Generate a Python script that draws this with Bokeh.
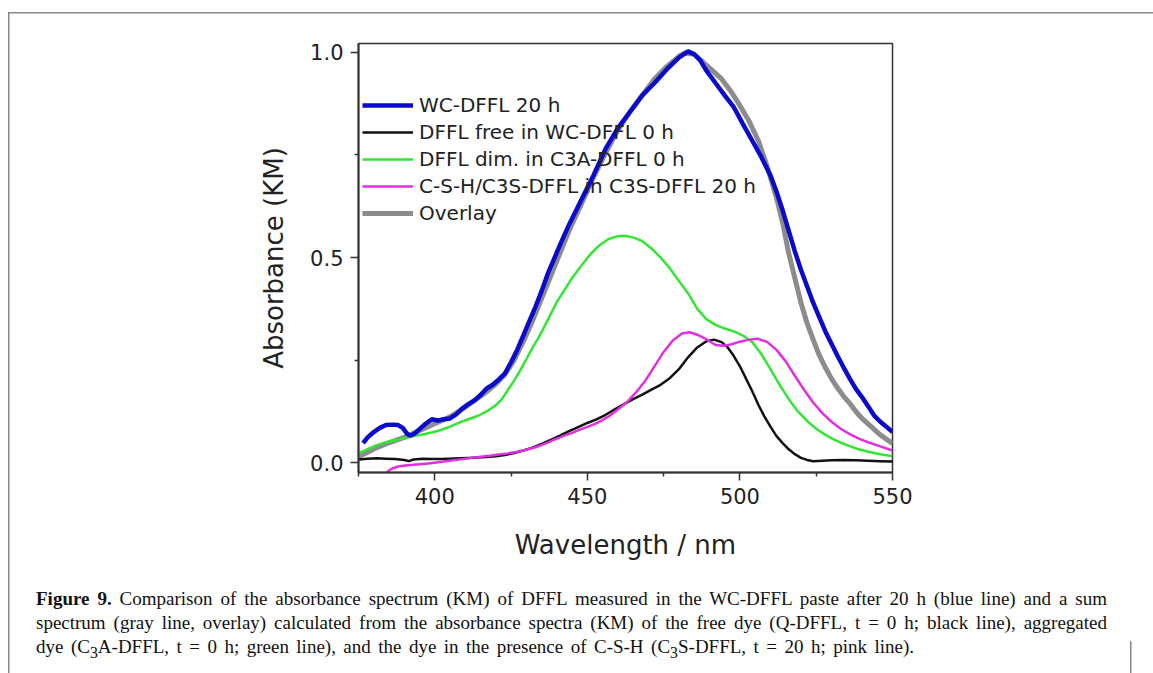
from bokeh.plotting import figure
from bokeh.layouts import column
from bokeh.models import (Range1d, FixedTicker, PrintfTickFormatter, Legend, LegendItem, Div)
from bokeh.embed import file_html
from bokeh.resources import INLINE

# ---------------- data ----------------
wl_blue = [376.5, 378, 380, 382, 384, 386, 388, 389.5, 391, 392, 393.5, 395, 397, 399, 401, 403, 405,
           407, 409, 411, 413, 415, 417, 419, 421, 423, 425, 427, 429, 431, 433, 435, 437, 439, 441,
           444, 448, 452, 456, 460, 464, 468, 472, 476, 480, 483, 485, 487, 489, 492, 495, 498, 501,
           504, 507, 510, 512, 514, 516, 518, 520, 522, 524, 526, 528, 530, 532, 534, 536, 538, 540,
           542, 544, 546, 548, 550]
abs_blue = [0.048, 0.062, 0.075, 0.085, 0.092, 0.093, 0.092, 0.085, 0.070, 0.066, 0.072, 0.082, 0.095,
            0.106, 0.103, 0.106, 0.108, 0.118, 0.132, 0.143, 0.152, 0.165, 0.181, 0.190, 0.203, 0.218,
            0.245, 0.275, 0.310, 0.345, 0.380, 0.418, 0.460, 0.495, 0.530, 0.580, 0.640, 0.700, 0.765,
            0.815, 0.855, 0.895, 0.925, 0.958, 0.987, 1.002, 0.995, 0.980, 0.955, 0.925, 0.895, 0.866,
            0.825, 0.785, 0.745, 0.700, 0.660, 0.615, 0.565, 0.515, 0.470, 0.430, 0.390, 0.355, 0.320,
            0.290, 0.260, 0.232, 0.205, 0.180, 0.160, 0.138, 0.115, 0.100, 0.088, 0.075]

wl_black = [375, 378, 381, 384, 387, 390, 391.5, 393, 396, 399, 402, 405, 408, 411, 414, 417, 420, 423,
            426, 429, 432, 435, 438, 441, 444, 447, 450, 453, 456, 459, 462, 465, 468, 471, 474, 477,
            480, 483, 486, 489, 491.5, 494, 496, 498, 500, 502, 504, 506, 508, 510, 512, 514, 516, 518,
            520, 522, 524, 527, 530, 534, 538, 542, 546, 550]
abs_black = [0.008, 0.010, 0.011, 0.010, 0.009, 0.007, 0.004, 0.008, 0.010, 0.009, 0.009, 0.010, 0.011,
             0.012, 0.013, 0.014, 0.016, 0.019, 0.024, 0.030, 0.037, 0.046, 0.056, 0.066, 0.077, 0.087,
             0.097, 0.106, 0.117, 0.130, 0.143, 0.155, 0.166, 0.178, 0.190, 0.206, 0.228, 0.257, 0.281,
             0.296, 0.300, 0.294, 0.281, 0.260, 0.235, 0.205, 0.175, 0.142, 0.113, 0.088, 0.065, 0.048,
             0.033, 0.021, 0.012, 0.007, 0.004, 0.005, 0.006, 0.007, 0.006, 0.005, 0.004, 0.003]

wl_green = [375, 378, 381, 384, 387, 390, 393, 396, 399, 402, 405, 408, 411, 414, 417, 420, 422, 424,
            426, 428, 430, 432, 434, 436, 438, 440, 442, 445, 448, 451, 454, 457, 460, 462, 465, 468,
            471, 474, 477, 480, 483, 486, 489, 492, 495, 498, 501, 504, 507, 510, 513, 516, 519, 522,
            525, 528, 531, 534, 538, 542, 546, 550]
abs_green = [0.023, 0.033, 0.043, 0.050, 0.055, 0.060, 0.065, 0.069, 0.074, 0.080, 0.088, 0.098, 0.106,
             0.114, 0.125, 0.140, 0.155, 0.178, 0.200, 0.225, 0.252, 0.280, 0.305, 0.333, 0.362, 0.392,
             0.415, 0.450, 0.480, 0.508, 0.530, 0.545, 0.552, 0.553, 0.549, 0.540, 0.522, 0.500, 0.474,
             0.443, 0.413, 0.375, 0.350, 0.336, 0.327, 0.320, 0.310, 0.294, 0.265, 0.228, 0.190, 0.155,
             0.125, 0.102, 0.083, 0.068, 0.056, 0.046, 0.035, 0.027, 0.021, 0.016]

wl_pink = [384, 386, 388, 391, 394, 397, 400, 403, 406, 409, 412, 415, 418, 421, 424, 427, 430, 433,
           436, 439, 442, 445, 448, 451, 454, 457, 460, 463, 466, 469, 472, 475, 478, 481, 483.5, 486,
           489, 492, 494.5, 497, 500, 503, 506, 509, 512, 515, 518, 521, 524, 527, 530, 533, 536, 539,
           542, 546, 550]
abs_pink = [-0.024, -0.014, -0.009, -0.006, -0.004, -0.002, 0.000, 0.003, 0.006, 0.009, 0.012, 0.015,
            0.017, 0.020, 0.023, 0.027, 0.032, 0.038, 0.046, 0.056, 0.065, 0.073, 0.082, 0.090, 0.100,
            0.113, 0.130, 0.148, 0.172, 0.200, 0.235, 0.270, 0.298, 0.315, 0.318, 0.312, 0.301, 0.287,
            0.285, 0.288, 0.295, 0.300, 0.302, 0.294, 0.275, 0.247, 0.212, 0.178, 0.147, 0.121, 0.100,
            0.083, 0.070, 0.059, 0.050, 0.040, 0.030]

wl_gray = [375, 378, 381, 384, 387, 390, 393, 396, 399, 402, 405, 408, 411, 414, 417, 420, 423, 426,
           429, 432, 435, 438, 441, 444, 448, 452, 456, 460, 464, 468, 472, 476, 480, 482, 485, 488,
           491, 494, 497, 500, 503, 506, 509, 512, 514, 516, 518, 520, 522, 524, 526, 528, 530, 532,
           534, 536, 538, 540, 543, 546, 550]
abs_gray = [0.015, 0.026, 0.037, 0.046, 0.054, 0.062, 0.072, 0.082, 0.092, 0.102, 0.112, 0.126, 0.141,
            0.157, 0.173, 0.192, 0.215, 0.250, 0.295, 0.345, 0.400, 0.455, 0.510, 0.565, 0.630, 0.695,
            0.755, 0.810, 0.855, 0.895, 0.935, 0.965, 0.990, 0.998, 0.995, 0.975, 0.955, 0.935, 0.905,
            0.870, 0.832, 0.785, 0.720, 0.645, 0.585, 0.510, 0.450, 0.390, 0.340, 0.300, 0.262, 0.232,
            0.205, 0.182, 0.162, 0.145, 0.125, 0.108, 0.088, 0.068, 0.047]

series_labels = ["WC-DFFL 20 h", "DFFL free in WC-DFFL 0 h", "DFFL dim. in C3A-DFFL 0 h",
                 "C-S-H/C3S-DFFL in C3S-DFFL 20 h", "Overlay"]
x_ticks = [400, 450, 500, 550]
x_minor = [375, 425, 475, 525]
y_ticks = [0.0, 0.5, 1.0]
y_minor = [0.25, 0.75]

caption_bold = "Figure 9."
caption_lines = [
    "Comparison of the absorbance spectrum (KM) of DFFL measured in the WC-DFFL paste after 20 h (blue line) and a sum",
    "spectrum (gray line, overlay) calculated from the absorbance spectra (KM) of the free dye (Q-DFFL, t = 0 h; black line), aggregated",
    "dye (C<sub>3</sub>A-DFFL, t = 0 h; green line), and the dye in the presence of C-S-H (C<sub>3</sub>S-DFFL, t = 20 h; pink line).",
]

# ---------------- layout geometry (page pixels) ----------------
W, H = 1153, 673
MAIN_H = 575
FRAME_L, FRAME_R, FRAME_T, FRAME_B = 358, 892, 43, 472

# ---------------- main figure ----------------
AX_FONT = "DejaVu Sans"
p = figure(width=W, height=MAIN_H,
           min_border_left=FRAME_L, min_border_right=W - FRAME_R,
           min_border_top=FRAME_T, min_border_bottom=MAIN_H - FRAME_B,
           x_range=Range1d(375, 550), y_range=Range1d(-0.0236, 1.0212),
           output_backend="svg", toolbar_location=None)
p.background_fill_color = "white"
p.border_fill_color = None
p.grid.visible = False
p.outline_line_color = "#333333"
p.outline_line_width = 1.5

p.xaxis.ticker = FixedTicker(ticks=x_ticks, minor_ticks=x_minor)
p.yaxis.ticker = FixedTicker(ticks=y_ticks, minor_ticks=y_minor)
p.xaxis.formatter = PrintfTickFormatter(format="%d")
p.yaxis.formatter = PrintfTickFormatter(format="%.1f")
for ax in (p.xaxis, p.yaxis):
    ax.axis_line_color = "#333333"
    ax.axis_line_width = 2
    ax.major_tick_line_color = "#333333"
    ax.major_tick_line_width = 1.5
    ax.minor_tick_line_color = "#333333"
    ax.minor_tick_line_width = 1.5
    ax.major_tick_in = 0
    ax.minor_tick_in = 0
    ax.major_tick_out = 8
    ax.minor_tick_out = 4
    ax.major_label_text_font = AX_FONT
    ax.major_label_text_font_size = "21px"
    ax.major_label_text_color = "#222222"
    ax.axis_label_text_font = AX_FONT
    ax.axis_label_text_font_size = "26px"
    ax.axis_label_text_font_style = "normal"
    ax.axis_label_text_color = "#222222"
    ax.major_label_standoff = 7
p.xaxis.axis_label = "Wavelength / nm"
p.yaxis.axis_label = "Absorbance (KM)"
p.xaxis.axis_label_standoff = 23
p.yaxis.axis_label_standoff = 18

r_gray = p.line(wl_gray, abs_gray, line_color="#8c8c8c", line_width=5)
r_green = p.line(wl_green, abs_green, line_color="#33e633", line_width=2.5)
r_black = p.line(wl_black, abs_black, line_color="#111111", line_width=2.5)
r_pink = p.line(wl_pink, abs_pink, line_color="#e030e0", line_width=2.5)
r_blue = p.line(wl_blue, abs_blue, line_color="#0a0acc", line_width=4.5)

legend = Legend(items=[
    LegendItem(label=series_labels[0], renderers=[r_blue]),
    LegendItem(label=series_labels[1], renderers=[r_black]),
    LegendItem(label=series_labels[2], renderers=[r_green]),
    LegendItem(label=series_labels[3], renderers=[r_pink]),
    LegendItem(label=series_labels[4], renderers=[r_gray]),
], location=(4, 247), padding=0, margin=0, spacing=3,
   glyph_width=51, glyph_height=20, label_height=20, label_standoff=6,
   label_text_font=AX_FONT, label_text_font_size="20px", label_text_color="#222222",
   border_line_color=None, background_fill_alpha=0)
p.add_layout(legend)

# ---------------- caption (real text, serif) ----------------
CAP_X, CAP_R, CAP_R3 = 36, 1107, 914
just_style = "text-align: justify; text-align-last: justify; white-space: normal;"
cap_html = (
    f"<div style=\"box-sizing: content-box; font-family: 'Liberation Serif', serif; font-size: 19px; "
    f"line-height: 24px; color: #111111; margin: 0; padding: 12px 0 0 {CAP_X}px; "
    f"width: {CAP_R - CAP_X}px;\">"
    f"<div style=\"{just_style}\"><b>{caption_bold}</b> {caption_lines[0]}</div>"
    f"<div style=\"{just_style}\">{caption_lines[1]}</div>"
    f"<div style=\"{just_style} box-sizing: content-box; width: {CAP_R3 - CAP_X}px;\">{caption_lines[2]}</div>"
    "</div>"
)
cap = Div(text=cap_html, width=W, height=H - MAIN_H, styles={"margin": "0", "padding": "0"})

# page border lines drawn as the layout's background
border = ("linear-gradient(#888888,#888888) 8px 12px / 1.5px 661px no-repeat, "
          "linear-gradient(#888888,#888888) 8px 12px / 1145px 1.5px no-repeat, "
          "linear-gradient(#888888,#888888) 1130px 641px / 1.5px 32px no-repeat, white")
layout = column(p, cap, spacing=0, styles={"background": border})

open("out.html", "w").write(file_html(layout, INLINE))
